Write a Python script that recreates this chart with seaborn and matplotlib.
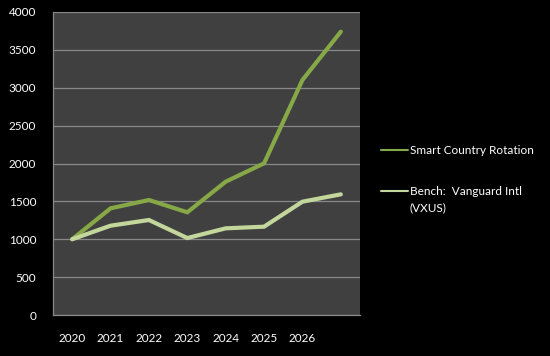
import matplotlib
matplotlib.use("Agg")
import matplotlib.pyplot as plt
import seaborn as sns
import pandas as pd

# Values (growth of 1000)
years = ["2020", "2021", "2022", "2023", "2024", "2025", "2026", ""]
smart = [1000, 1408, 1518, 1356, 1760, 2002, 3102, 3740]
bench = [1000, 1179, 1254, 1016, 1144, 1166, 1496, 1593]
series_names = ["Smart Country Rotation", "Bench:  Vanguard Intl"]
bench_suffix = "(VXUS)"
colors = ["#86A846", "#C3D69B"]

n = len(years)
df = pd.DataFrame({
    "pos": list(range(n)) * 2,
    "value": smart + bench,
    "series": [series_names[0]] * n + [series_names[1]] * n,
})

sns.set_style("dark")
plt.rcParams["font.family"] = ["Lato", "DejaVu Sans"]

fig = plt.figure(figsize=(5.5, 3.56), dpi=100, facecolor="black")
ax = fig.add_axes([53 / 550, 41 / 356, 307 / 550, 303 / 356])
ax.set_facecolor("#404040")

sns.lineplot(data=df, x="pos", y="value", hue="series", palette=colors,
             linewidth=3, ax=ax, legend=False)
for line in ax.lines:
    line.set_solid_capstyle("round")
    line.set_solid_joinstyle("miter")

ax.set_ylim(0, 4000)
ax.set_yticks(range(0, 4001, 500))
ax.set_xlim(-0.5, n - 0.5)
# major ticks on category boundaries, labels at category centres
ax.set_xticks([i - 0.5 for i in range(n + 1)])
ax.set_xticklabels([])
ax.set_xticks(range(n), minor=True)
ax.set_xticklabels(years, minor=True)
ax.tick_params(axis="x", which="major", length=4, color="#888888", direction="out")
ax.tick_params(axis="x", which="minor", length=0, pad=13, labelcolor="white",
               labelsize=8.5)
ax.tick_params(axis="y", length=4, color="#888888", direction="out", pad=8,
               labelcolor="white", labelsize=8.5)
ax.yaxis.grid(True, color="#888888", linewidth=0.9)
ax.xaxis.grid(False)
for side in ["top", "right"]:
    ax.spines[side].set_visible(False)
for side in ["left", "bottom"]:
    ax.spines[side].set_color("#888888")
    ax.spines[side].set_linewidth(0.9)
ax.set_xlabel("")
ax.set_ylabel("")

# legend on the right
handles = [plt.Line2D([], [], color=c, linewidth=1.5) for c in colors]
leg = fig.legend(handles, series_names, loc="upper left",
                 bbox_to_anchor=(376 / 550, (356 - 140) / 356),
                 frameon=False, fontsize=8.5, labelcolor="white",
                 handlelength=2.3, handletextpad=0.15, labelspacing=2.55,
                 borderaxespad=0)

# second line of the bench label, under its first line
fig.canvas.draw()
bb = leg.get_texts()[1].get_window_extent().transformed(fig.transFigure.inverted())
fig.text(bb.x0, bb.y0 - 16 / 356, bench_suffix, color="white", fontsize=8.5,
         va="bottom", ha="left")

fig.savefig("out.png", dpi=100, facecolor="black")
